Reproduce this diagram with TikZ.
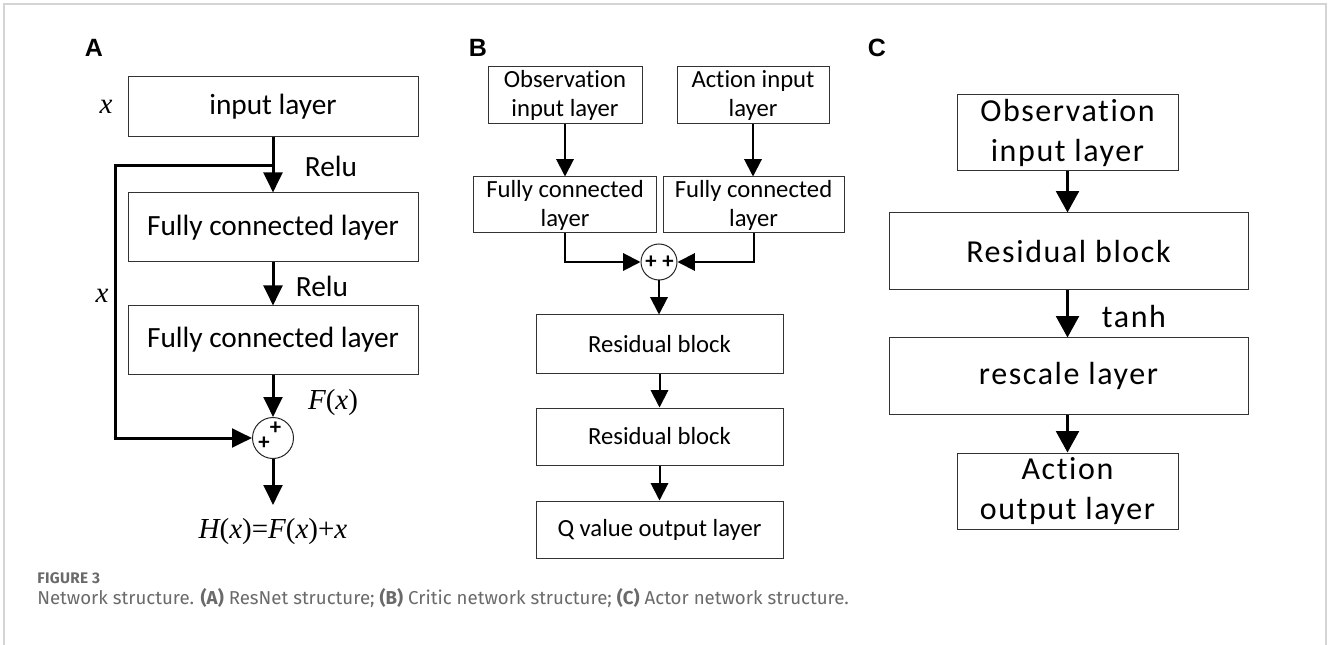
\documentclass[tikz,border=0pt]{standalone}
\usepackage{fontspec}
\setmainfont[Ligatures=NoCommon]{Carlito}
\newfontfamily\tnr{Liberation Serif}
\newfontfamily\lbl{Liberation Sans}
\newfontfamily\capf{Fira Sans}
\newfontfamily\capfig[LetterSpace=2]{Fira Sans}
\newfontfamily\cfont[LetterSpace=5,Ligatures=NoCommon]{Carlito}
\usetikzlibrary{arrows.meta}
\definecolor{capgray}{HTML}{6A6A6A}
\definecolor{framegray}{HTML}{D4D4D4}
\tikzset{
  boxA/.style={draw=black!80, line width=0.75pt, minimum width=#1, inner sep=0pt, font=\fontsize{22}{26}\selectfont},
  boxB/.style={draw=black!80, line width=0.75pt, minimum width=#1, inner sep=0pt, align=center, font=\fontsize{18.5}{21.75}\selectfont},
  boxC/.style={draw=black!80, line width=0.75pt, minimum width=#1, inner sep=0pt, align=center, font=\cfont\fontsize{24}{30}\selectfont},
  sumnode/.style={draw=black!85, circle, line width=0.75pt, inner sep=0pt, minimum size=#1},
  plussign/.style={inner sep=0pt, font=\bfseries\fontsize{17}{17}\selectfont},
  arrA/.style={line width=2.25pt, -{Triangle[length=15pt,width=14pt]}},
  arrB/.style={line width=1.5pt, -{Triangle[length=13pt,width=13pt]}},
  arrC/.style={line width=2.25pt, -{Triangle[length=16pt,width=17pt]}},
  panellbl/.style={font=\lbl\bfseries\fontsize{18.75}{20}\selectfont},
  mathlbl/.style={font=\tnr\fontsize{21.75}{26}\selectfont},
}
\begin{document}
\begin{tikzpicture}[x=0.75pt,y=-0.75pt]
\useasboundingbox (0,0) rectangle (1328,645);
\draw[framegray, line width=1pt] (4,645) -- (4,4) -- (1326,4) -- (1326,645);

% ---------- Panel A ----------
\node[panellbl] (labA) at (94,48) {A};
\node[boxA=217.5pt, minimum height=45pt] (inA) at (273,107) {input layer};
\node[boxA=217.5pt, minimum height=51.75pt] (fcA1) at (273,227.5) {Fully connected layer};
\node[boxA=217.5pt, minimum height=51pt] (fcA2) at (273,340) {Fully connected layer};
\node[sumnode=30.75pt] (sumA) at (273,438) {};
\node[plussign] (pA1) at (275.5,428) {+};
\node[plussign] (pA2) at (264,443) {+};
\node[mathlbl] (xA1) at (106,107) {\itshape x};
\node[mathlbl] (xA2) at (102,296) {\itshape x};
\node[font=\fontsize{22}{26}\selectfont] (relu1) at (331,166) {Relu};
\node[font=\fontsize{22}{26}\selectfont] (relu2) at (322,286) {Relu};
\node[mathlbl] (FxA) at (333,403) {\itshape F\upshape(\itshape x\upshape)};
\node[mathlbl] (HxA) at (273,532) {\itshape H\upshape(\itshape x\upshape)=\itshape F\upshape(\itshape x\upshape)+\itshape x};
\coordinate (brA) at (273,166);
\coordinate (lc1) at (115,166);
\coordinate (lc2) at (115,438);
\coordinate (outA) at (273,505);
\draw[arrA] (inA.south) -- (fcA1.north);
\draw[arrA, line join=miter] (brA) -- (lc1) -- (lc2) -- (sumA.west);
\draw[arrA] (fcA1.south) -- (fcA2.north);
\draw[arrA] (fcA2.south) -- (sumA.north);
\draw[arrA] (sumA.south) -- (outA);

% ---------- Panel B ----------
\node[panellbl] (labB) at (478,48) {B};
\node[boxB=115.5pt, minimum height=42.75pt] (obsB) at (565,95.5) {Observation\\input layer};
\node[boxB=114pt, minimum height=42.75pt] (actB) at (753,95.5) {Action input\\layer};
\node[boxB=137.25pt, minimum height=42pt] (fcB1) at (565,205) {Fully connected\\layer};
\node[boxB=135.75pt, minimum height=42pt] (fcB2) at (753.5,205) {Fully connected\\layer};
\node[sumnode=27pt] (sumB) at (659,262) {};
\node[plussign] (pB1) at (651,262) {+};
\node[plussign] (pB2) at (668,262) {+};
\node[boxB=185.25pt, minimum height=43.5pt] (res1) at (659.5,344) {Residual block};
\node[boxB=185.25pt, minimum height=42.75pt] (res2) at (659.5,436.5) {Residual block};
\node[boxB=185.25pt, minimum height=42.75pt] (qB) at (659.5,529.5) {Q value output layer};
\draw[arrB] (obsB.south) -- (obsB.south |- fcB1.north);
\draw[arrB] (actB.south) -- (actB.south |- fcB2.north);
\draw[arrB, line join=miter] (fcB1.south) |- (sumB.west);
\draw[arrB, line join=miter] (fcB2.south) |- (sumB.east);
\draw[arrB] (sumB.south) -- (sumB.south |- res1.north);
\draw[arrB] (res1.south) -- (res2.north);
\draw[arrB] (res2.south) -- (qB.north);

% ---------- Panel C ----------
\node[panellbl] (labC) at (877,48) {C};
\node[boxC=165.75pt, minimum height=57pt] (obsC) at (1067.5,133) {Observation\\input layer};
\node[boxC=269.25pt, minimum height=57.75pt] (resC) at (1068.5,251.5) {Residual block};
\node[boxC=269.25pt, minimum height=57pt] (rescC) at (1068.5,376) {rescale layer};
\node[boxC=165.75pt, minimum height=57pt] (actC) at (1067.5,491) {Action\\output layer};
\node[font=\cfont\fontsize{24}{30}\selectfont] (tanhC) at (1134,317) {tanh};
\draw[arrC] (obsC.south) -- (obsC.south |- resC.north);
\draw[arrC] (resC.south -| obsC.south) -- (obsC.south |- rescC.north);
\draw[arrC] (rescC.south -| obsC.south) -- (actC.north);

% ---------- Caption ----------
\node[anchor=west, inner sep=0pt, text=capgray, font=\capfig\bfseries\fontsize{11.5}{13}\selectfont] (figno) at (37,578) {FIGURE 3};
\node[anchor=west, inner sep=0pt, text=capgray, font=\capf\fontsize{14}{16}\selectfont] (capt) at (37,598) {Network structure. \textbf{(A)} ResNet structure; \textbf{(B)} Critic network structure; \textbf{(C)} Actor network structure.};
\end{tikzpicture}
\end{document}
